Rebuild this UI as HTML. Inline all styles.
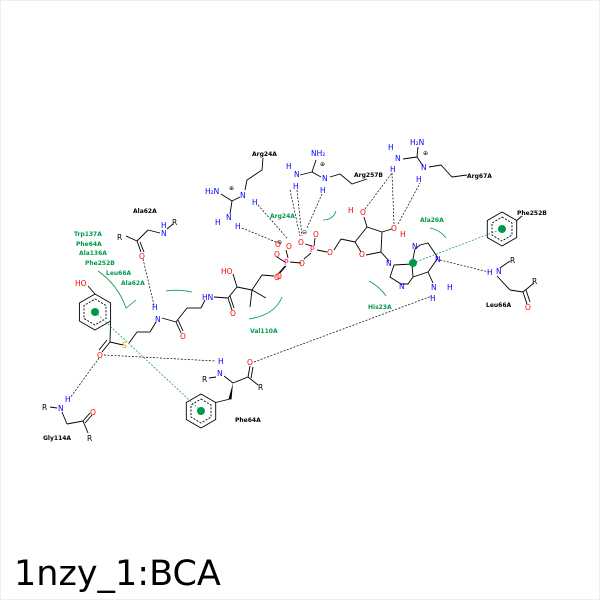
<!DOCTYPE html>
<html><head><meta charset="utf-8"><style>
html,body{margin:0;padding:0;background:#fff}
svg{display:block}
text{font-family:"DejaVu Sans","Liberation Sans",sans-serif;font-size:7.5px}
.k{fill:#000}.b{fill:#0000ff}.r{fill:#ff0000}.g{fill:#00994c;font-weight:bold}.p{fill:#ff0090}.s{fill:#e0a000}.kb{fill:#000;font-weight:bold}
</style></head><body>
<svg width="600" height="600" viewBox="0 0 600 600" xmlns="http://www.w3.org/2000/svg">
<rect x="0.5" y="0.5" width="599" height="599" fill="#fff" stroke="#eee"/>
<g stroke="#000" stroke-width="0.9" fill="none">
<polygon points="95,294 110.6,303 110.6,321 95,330 79.4,321 79.4,303"/>
<polygon points="95,299 106,305.5 106,318.5 95,325 84,318.5 84,305.5" stroke-dasharray="2,1.5"/>
<line x1="95" y1="294" x2="88" y2="286"/>
<line x1="110.6" y1="321" x2="110" y2="342"/>
<line x1="110" y1="342" x2="102" y2="352"/><line x1="107" y1="340" x2="99" y2="350"/>
<line x1="110" y1="342" x2="123" y2="345"/>
<line x1="129" y1="343" x2="137" y2="332"/><line x1="137" y1="332" x2="150" y2="332"/><line x1="150" y1="332" x2="156" y2="322"/>
<line x1="162" y1="318" x2="176" y2="322"/><line x1="176" y1="322" x2="181" y2="333"/><line x1="178" y1="320" x2="183" y2="331"/>
<line x1="176" y1="322" x2="187" y2="308"/><line x1="187" y1="308" x2="201" y2="308"/><line x1="201" y1="308" x2="205" y2="300"/>
<line x1="214" y1="297" x2="228" y2="298"/><line x1="228" y1="298" x2="232" y2="310"/><line x1="230" y1="296" x2="234" y2="308"/>
<line x1="228" y1="298" x2="237" y2="287"/><line x1="237" y1="287" x2="233" y2="274"/><line x1="237" y1="287" x2="252" y2="290"/>
<line x1="252" y1="290" x2="250" y2="307"/><line x1="252" y1="290" x2="266" y2="298"/><line x1="252" y1="290" x2="262" y2="275"/>
<line x1="262" y1="275" x2="274" y2="276"/>
<line x1="126" y1="236" x2="137" y2="241"/><line x1="137" y1="241" x2="148" y2="230"/><line x1="148" y1="230" x2="160" y2="233"/>
<line x1="137" y1="241" x2="141" y2="252"/><line x1="140" y1="242" x2="144" y2="252"/>
<line x1="167" y1="229" x2="173" y2="224"/>
<polygon points="201,394 215.7,402.5 215.7,419.5 201,428 186.3,419.5 186.3,402.5"/>
<polygon points="201,399 211,405 211,417 201,423 191,417 191,405" stroke-dasharray="2,1.5"/>
<line x1="215.7" y1="402.5" x2="230" y2="399"/>
<line x1="209" y1="378" x2="216" y2="377"/><line x1="224" y1="376" x2="233" y2="383"/>
<line x1="233" y1="383" x2="248" y2="377"/><line x1="248" y1="377" x2="250" y2="366"/><line x1="251" y1="378" x2="253" y2="367"/><line x1="248" y1="377" x2="258" y2="385"/>
<line x1="50" y1="407" x2="57" y2="408"/><line x1="62" y1="412" x2="67" y2="424"/><line x1="67" y1="424" x2="83" y2="421"/>
<line x1="83" y1="421" x2="90" y2="413"/><line x1="85" y1="423" x2="92" y2="415"/><line x1="83" y1="421" x2="88" y2="433"/>
<line x1="278" y1="274" x2="285" y2="266"/><line x1="290" y1="262" x2="301" y2="263"/><line x1="304" y1="259" x2="311" y2="253"/><line x1="317" y1="250" x2="327" y2="252"/>
<line x1="288" y1="258" x2="286" y2="250"/><line x1="285" y1="262" x2="277" y2="257"/><line x1="286" y1="266" x2="280" y2="273"/>
<line x1="312" y1="246" x2="305" y2="244"/><line x1="314" y1="246" x2="315" y2="238"/>
<line x1="334" y1="250" x2="341" y2="239"/><line x1="341" y1="239" x2="355" y2="242"/>
<line x1="355" y1="242" x2="361" y2="252"/><line x1="366" y1="255" x2="381" y2="252"/><line x1="381" y1="252" x2="382" y2="232"/><line x1="382" y1="232" x2="367" y2="227"/><line x1="367" y1="227" x2="355" y2="242"/>
<line x1="367" y1="227" x2="364" y2="217"/><line x1="382" y1="232" x2="392" y2="229"/><line x1="381" y1="252" x2="389" y2="261"/>
<polyline points="394,265 390,277 401,284 408,284 413,277 412,264 394,265"/>
<polyline points="412,264 415,249 420,245 428,243 436,255 438,258 428,272 413,277"/>
<line x1="428" y1="272" x2="433" y2="283"/>
<polyline points="263,158 262,170 247,180 245,190"/>
<line x1="240" y1="197" x2="232" y2="201"/><line x1="232" y1="201" x2="221" y2="194"/><line x1="232" y1="201" x2="230" y2="214"/>
<polyline points="330,177 340,174 352,184 367,179"/>
<line x1="312" y1="172" x2="321" y2="177"/><line x1="312" y1="172" x2="300" y2="175"/><line x1="312" y1="172" x2="316" y2="160"/>
<polyline points="429,167 441,165 452,177 467,175"/>
<line x1="417" y1="157" x2="423" y2="166"/><line x1="417" y1="157" x2="403" y2="159"/><line x1="417" y1="157" x2="418" y2="147"/>
<polygon points="502,212 516.7,220.5 516.7,237.5 502,246 487.3,237.5 487.3,220.5"/>
<polygon points="502,217 512,223 512,235 502,241 492,235 492,223" stroke-dasharray="2,1.5"/>
<line x1="516.7" y1="220.5" x2="522" y2="216"/>
<line x1="500" y1="268" x2="510" y2="261"/><line x1="497" y1="276" x2="510" y2="290"/><line x1="510" y1="290" x2="523" y2="292"/>
<line x1="523" y1="292" x2="534" y2="283"/><line x1="523" y1="292" x2="527" y2="304"/><line x1="526" y1="290" x2="530" y2="302"/>
</g>
<polygon points="233,383 228.5,399 231.5,399.5" fill="#000"/>
<g stroke="#000" stroke-width="0.7" stroke-dasharray="2,1.5" fill="none">
<line x1="143" y1="259" x2="154" y2="305"/>
<line x1="104" y1="355" x2="216" y2="361"/>
<line x1="99" y1="358" x2="70" y2="398"/>
<line x1="254" y1="362" x2="432" y2="296"/>
<line x1="440" y1="260" x2="489" y2="272"/>
<line x1="258" y1="205" x2="287" y2="238"/><line x1="242" y1="228" x2="276" y2="242"/>
<line x1="290" y1="190" x2="300" y2="236"/><line x1="297" y1="190" x2="302" y2="236"/>
<line x1="322" y1="194" x2="307" y2="228"/>
<line x1="365" y1="209" x2="392" y2="173"/><line x1="392" y1="173" x2="394" y2="224"/><line x1="398" y1="224" x2="420" y2="183"/>
</g>
<g stroke="#00994c" stroke-width="0.7" stroke-dasharray="2,1.5"><line x1="95" y1="312" x2="201" y2="411"/><line x1="413" y1="263" x2="502" y2="229"/></g>
<g fill="#00994c"><circle cx="95" cy="312" r="4"/><circle cx="201" cy="411" r="4"/><circle cx="413" cy="263" r="4"/><circle cx="502" cy="229" r="4"/></g>
<g stroke="#00994c" stroke-width="0.8" fill="none">
<path d="M98,271 Q118,285 126,308 Q130,305 136,300"/>
<path d="M166,291 Q178,289 192,292"/>
<path d="M249,319 Q275,315 282,297"/>
<path d="M323,220 Q333,220 336,211"/>
<path d="M430,228 Q440,230 446,238"/>
<path d="M369,281 Q380,287 386,296"/>
</g>
<g>
<text x="75" y="286" class="r">HO</text>
<text x="97" y="358" class="r">O</text>
<text x="122" y="348" class="s">S</text>
<text x="152" y="310" class="b">H</text><text x="155" y="322" class="b">N</text>
<text x="180" y="339" class="r">O</text>
<text x="202" y="300" class="b">HN</text>
<text x="230" y="316" class="r">O</text>
<text x="221" y="274" class="r">HO</text>
<text x="274" y="280" class="r">O</text>
<text x="284" y="265" class="p">P</text><text x="310" y="252" class="p">P</text>
<text x="299" y="266" class="r">O</text><text x="274" y="257" class="r">O</text><text x="275" y="247" class="r">O</text><text x="286" y="249" class="r">O</text><text x="276" y="279" class="r">O</text>
<text x="298" y="245" class="r">O</text><text x="313" y="237" class="r">O</text><text x="327" y="255" class="r">O</text>
<text x="277" y="244" class="k" style="font-size:6px">⊖</text><text x="302" y="234" class="k" style="font-size:6px">⊖</text>
<text x="359" y="257" class="r">O</text>
<text x="360" y="215" class="r">O</text><text x="348" y="213" class="r">H</text>
<text x="391" y="231" class="r">O</text><text x="400" y="237" class="r">H</text>
<text x="386" y="266" class="b">N</text><text x="399" y="289" class="b">N</text><text x="412" y="249" class="b">N</text><text x="435" y="262" class="b">N</text>
<text x="431" y="290" class="b">N</text><text x="447" y="290" class="b">H</text><text x="430" y="301" class="b">H</text>
<text x="117" y="240" class="k">R</text><text x="161" y="236" class="b">N</text><text x="161" y="228" class="b">H</text><text x="172" y="225" class="k">R</text>
<text x="139" y="259" class="r">O</text>
<text x="133" y="213" class="kb" style="font-size:6px">Ala62A</text>
<text x="218" y="364" class="b">H</text><text x="217" y="376" class="b">N</text><text x="202" y="382" class="k">R</text>
<text x="247" y="365" class="r">O</text><text x="258" y="390" class="k">R</text>
<text x="235" y="422" class="kb" style="font-size:6px">Phe64A</text>
<text x="42" y="410" class="k">R</text><text x="58" y="411" class="b">N</text><text x="65" y="402" class="b">H</text>
<text x="90" y="415" class="r">O</text><text x="87" y="441" class="k">R</text>
<text x="43" y="440" class="kb" style="font-size:6px">Gly114A</text>
<text x="252" y="156" class="kb" style="font-size:6px">Arg24A</text>
<text x="205" y="194" class="b">H₂N</text><text x="229" y="190" class="k" style="font-size:6px">⊕</text>
<text x="240" y="198" class="b">N</text><text x="252" y="205" class="b">H</text>
<text x="226" y="220" class="b">N</text><text x="215" y="225" class="b">H</text><text x="235" y="229" class="b">H</text>
<text x="311" y="156" class="b">NH₂</text><text x="320" y="166" class="k" style="font-size:6px">⊕</text>
<text x="322" y="181" class="b">N</text><text x="320" y="193" class="b">H</text>
<text x="294" y="177" class="b">N</text><text x="286" y="169" class="b">H</text><text x="293" y="189" class="b">H</text>
<text x="354" y="177" class="kb" style="font-size:6px">Arg257B</text>
<text x="410" y="145" class="b">H₂N</text><text x="423" y="155" class="k" style="font-size:6px">⊕</text>
<text x="421" y="170" class="b">N</text><text x="416" y="182" class="b">H</text>
<text x="395" y="161" class="b">N</text><text x="388" y="150" class="b">H</text><text x="390" y="172" class="b">H</text>
<text x="467" y="178" class="kb" style="font-size:6px">Arg67A</text>
<text x="517" y="215" class="kb" style="font-size:6px">Phe252B</text>
<text x="487" y="275" class="b">H</text><text x="496" y="274" class="b">N</text><text x="510" y="263" class="k">R</text>
<text x="532" y="284" class="k">R</text><text x="525" y="310" class="r">O</text>
<text x="486" y="307" class="kb" style="font-size:6px">Leu66A</text>
<text x="74" y="236" class="g" style="font-size:6px">Trp137A</text>
<text x="76" y="246" class="g" style="font-size:6px">Phe64A</text>
<text x="79" y="255" class="g" style="font-size:6px">Ala136A</text>
<text x="85" y="265" class="g" style="font-size:6px">Phe252B</text>
<text x="106" y="275" class="g" style="font-size:6px">Leu66A</text>
<text x="121" y="285" class="g" style="font-size:6px">Ala62A</text>
<text x="270" y="218" class="g" style="font-size:6px">Arg24A</text>
<text x="250" y="333" class="g" style="font-size:6px">Val110A</text>
<text x="420" y="222" class="g" style="font-size:6px">Ala26A</text>
<text x="368" y="309" class="g" style="font-size:6px">His23A</text>
</g>
<text x="14" y="585" style="font-size:35px;fill:#000">1nzy_1:BCA</text>
</svg>
</body></html>
